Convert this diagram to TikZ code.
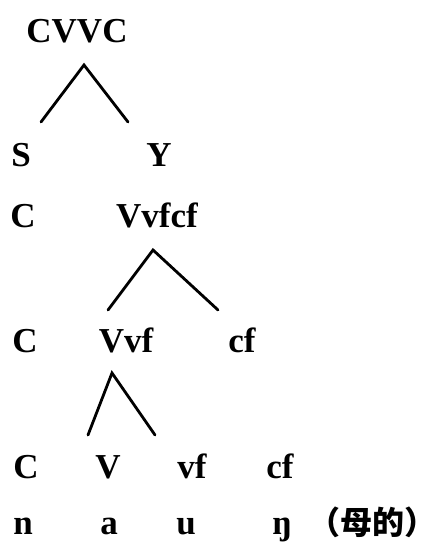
\documentclass[tikz,border=0pt]{standalone}
\usepackage{fontspec}
\setmainfont{Liberation Serif}
\newfontfamily\cjk{Noto Sans CJK SC}
\begin{document}
\begin{tikzpicture}[x=1pt,y=-1pt,
  lab/.style={inner sep=0pt,anchor=base,font=\fontsize{35}{40}\selectfont\bfseries},
  cjklab/.style={inner sep=0pt,anchor=base west,font=\fontsize{32}{40}\selectfont\cjk\bfseries},
  branch/.style={line width=2.8pt,line cap=round,line join=miter}]
\useasboundingbox (0,0) rectangle (441,545);
% row 0
\node[lab] (cvvc) at (77,43) {CVVC};
% row 1
\node[lab] (s) at (21,167) {S};
\node[lab] (y) at (159,167) {Y};
% row 2
\node[lab] (c2) at (23,227) {C};
\node[lab] (vvfcf) at (157,227) {Vvfcf};
% row 3
\node[lab] (c3) at (25,352) {C};
\node[lab] (vvf) at (126,352) {Vvf};
\node[lab] (cf3) at (242,352) {cf};
% row 4
\node[lab] (c4) at (26,478) {C};
\node[lab] (v4) at (108,478) {V};
\node[lab] (vf4) at (192,478) {vf};
\node[lab] (cf4) at (280,478) {cf};
% row 5
\node[lab] (n5) at (23,534) {n};
\node[lab] (a5) at (109,534) {a};
\node[lab] (u5) at (186,534) {u};
\node[lab] (ng5) at (282,534) {ŋ};
\node[cjklab] (gloss) at (308,534) {（母的）};
% branch points
\coordinate (t1) at (84,65);
\coordinate (t1l) at (41,122);
\coordinate (t1r) at (128,122);
\coordinate (t2) at (153,250);
\coordinate (t2l) at (108,310);
\coordinate (t2r) at (218,310);
\coordinate (t3) at (112,373);
\coordinate (t3l) at (88,435);
\coordinate (t3r) at (155,435);
\draw[branch] (t1l) -- (t1) -- (t1r);
\draw[branch] (t2l) -- (t2) -- (t2r);
\draw[branch] (t3l) -- (t3) -- (t3r);
\end{tikzpicture}
\end{document}
